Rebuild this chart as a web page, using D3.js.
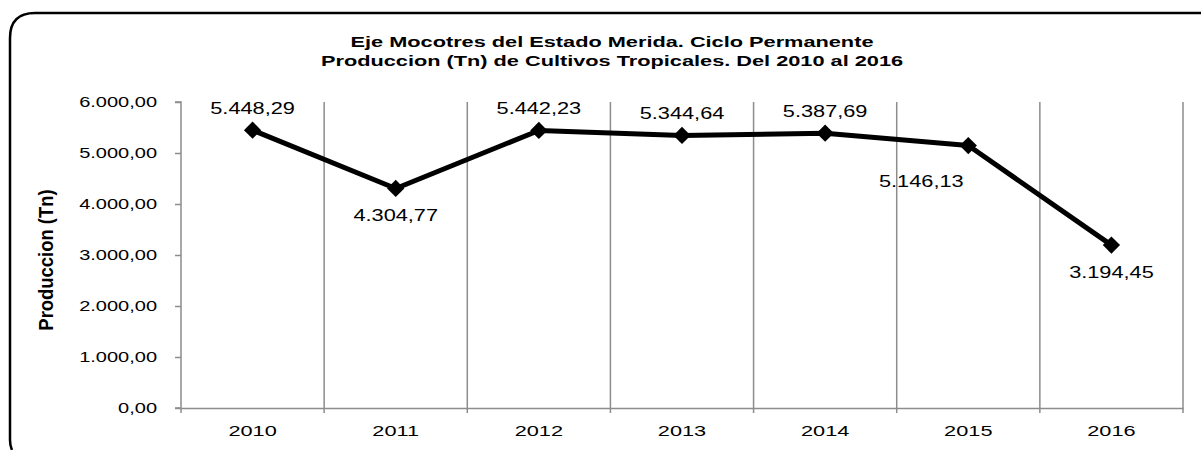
<!DOCTYPE html>
<html>
<head>
<meta charset="utf-8">
<script src="https://cdn.jsdelivr.net/npm/d3@7"></script>
<style>
  html, body { margin: 0; padding: 0; background: #fff; }
  svg { display: block; font-family: "Liberation Sans", Arial, sans-serif; }
</style>
</head>
<body>
<svg id="chart" width="1201" height="450"></svg>
<script>
// Production of tropical crops (Tn), Eje Mocotíes, Mérida
const years = ["2010", "2011", "2012", "2013", "2014", "2015", "2016"];
const production = [5448.29, 4304.77, 5442.23, 5344.64, 5387.69, 5146.13, 3194.45];
const labelPlacement = ["above", "below", "above", "above", "above", "below-left", "below"];
const yTicks = [0, 1000, 2000, 3000, 4000, 5000, 6000];
const titleLines = [
  "Eje Mocotres del Estado Merida. Ciclo Permanente",
  "Produccion (Tn) de Cultivos Tropicales. Del 2010 al 2016"
];
const yAxisTitle = "Produccion (Tn)";

const esLocale = d3.formatLocale({ decimal: ",", thousands: ".", grouping: [3], currency: ["", ""] });
const fmt = esLocale.format(",.2f");

const svg = d3.select("#chart");
const margin = { left: 181, right: 18, top: 102, bottom: 42 };
const W = 1201, H = 450;
const stretch = 1.38; // text is drawn horizontally widened

// outer frame: only the top and left edges are visible, with a rounded corner
svg.append("path")
  .attr("d", "M12,450 Q10,446 10,440 L10,38 Q10,13 35,13 L1201,13")
  .attr("fill", "none")
  .attr("stroke", "#000")
  .attr("stroke-width", 2.5);

const x = d3.scaleBand().domain(years).range([margin.left, W - margin.right]).padding(0);
const y = d3.scaleLinear().domain([0, 6000]).range([H - margin.bottom, margin.top]);

const grid = "#8c8c8c";

// vertical separators between categories
const bounds = years.map(d => x(d) + x.bandwidth());
svg.append("g").selectAll("line").data(bounds).join("line")
  .attr("x1", d => d).attr("x2", d => d)
  .attr("y1", y(6000)).attr("y2", y(0) + 5)
  .attr("stroke", grid).attr("stroke-width", 1.5);

// y axis
const yAxis = svg.append("g")
  .attr("transform", `translate(${margin.left},0)`)
  .call(d3.axisLeft(y).tickValues(yTicks).tickFormat(fmt).tickSize(6));
yAxis.select(".domain").attr("stroke", grid).attr("stroke-width", 1.5).attr("d", `M-6,${y(6000)}H0V${y(0)}H-6`);
yAxis.selectAll(".tick line").attr("stroke", grid).attr("stroke-width", 1.5);
yAxis.selectAll(".tick text")
  .attr("font-size", 14.5).attr("fill", "#000")
  .attr("font-family", "Liberation Sans, Arial, sans-serif")
  .attr("x", -24 / stretch)
  .attr("transform", `scale(${stretch},1)`);

// x axis
const xAxis = svg.append("g")
  .attr("transform", `translate(0,${y(0)})`)
  .call(d3.axisBottom(x).tickSize(0).tickPadding(17));
xAxis.select(".domain").attr("stroke", grid).attr("stroke-width", 1.5);
xAxis.selectAll(".tick text")
  .attr("font-size", 15).attr("fill", "#000")
  .attr("font-family", "Liberation Sans, Arial, sans-serif")
  .attr("transform", "scale(1.45,1)");
svg.append("line")
  .attr("x1", margin.left).attr("x2", margin.left)
  .attr("y1", y(0)).attr("y2", y(0) + 5)
  .attr("stroke", grid).attr("stroke-width", 1.5);

// title
svg.append("g").selectAll("text").data(titleLines).join("text")
  .attr("transform", (d, i) => `translate(612,${47 + i * 19}) scale(1.5,1)`)
  .attr("text-anchor", "middle")
  .attr("font-size", 14.5).attr("font-weight", "bold")
  .text(d => d);

// y axis title
svg.append("text")
  .attr("transform", `translate(46,260) rotate(-90) scale(1.23,1.4)`)
  .attr("text-anchor", "middle")
  .attr("dy", "0.35em")
  .attr("font-size", 15).attr("font-weight", "bold")
  .text(yAxisTitle);

// series line
const cx = d => x(d) + x.bandwidth() / 2;
const line = d3.line().x((d, i) => cx(years[i])).y(d => y(d));
svg.append("path")
  .datum(production)
  .attr("d", line)
  .attr("fill", "none")
  .attr("stroke", "#000")
  .attr("stroke-width", 5)
  .attr("stroke-linejoin", "round");

// diamond markers
svg.append("g").selectAll("path").data(production).join("path")
  .attr("transform", (d, i) => `translate(${cx(years[i])},${y(d)})`)
  .attr("d", d3.symbol().type(d3.symbolDiamond2).size(190))
  .attr("fill", "#000");

// data labels
const offsets = {
  "above": [0, -16],
  "below": [0, 33],
  "below-left": [-47, 41]
};
svg.append("g").selectAll("text").data(production).join("text")
  .attr("transform", (d, i) =>
    `translate(${cx(years[i]) + offsets[labelPlacement[i]][0]},${y(d) + offsets[labelPlacement[i]][1]}) scale(1.36,1)`)
  .attr("text-anchor", "middle")
  .attr("font-size", 16)
  .text(d => fmt(d));
</script>
</body>
</html>
